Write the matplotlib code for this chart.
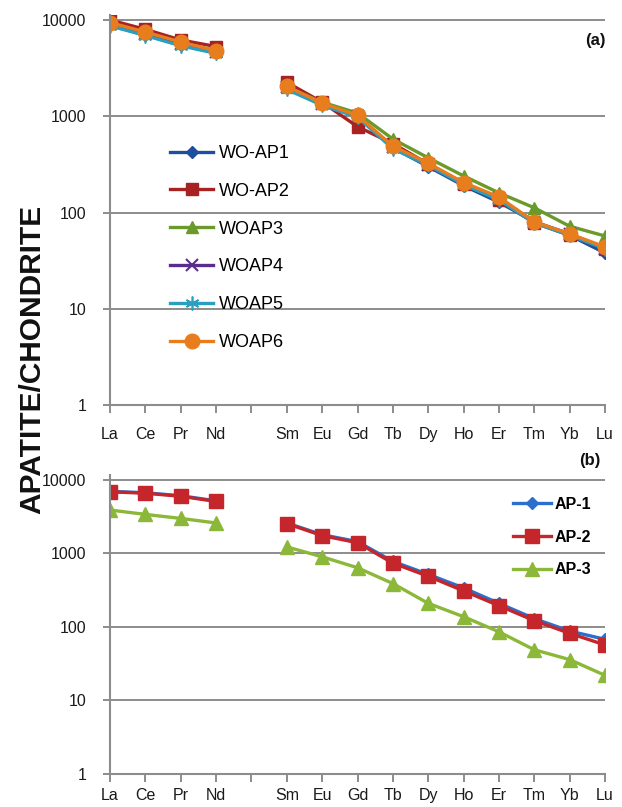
import numpy as np
import matplotlib
matplotlib.use("Agg")
import matplotlib.pyplot as plt
from matplotlib.ticker import FixedLocator, NullLocator

nan = np.nan
elements = ['La', 'Ce', 'Pr', 'Nd', '', 'Sm', 'Eu', 'Gd', 'Tb', 'Dy', 'Ho', 'Er', 'Tm', 'Yb', 'Lu']

# Panel (a)
wo_ap1 = [8800, 7000, 5500, 4600, nan, 2000, 1350, 1000, 470, 300, 190, 128, 80, 58, 38]
wo_ap2 = [10000, 8000, 6200, 5300, nan, 2250, 1400, 780, 520, 320, 200, 135, 78, 58, 42]
woap3 = [9200, 7300, 5800, 4800, nan, 2000, 1400, 1080, 580, 370, 240, 160, 112, 72, 57]
woap4 = [9000, 7100, 5600, 4700, nan, 2000, 1350, 1000, 480, 310, 200, 140, 80, 60, 42]
woap5 = [8700, 6900, 5400, 4500, nan, 1900, 1300, 980, 460, 310, 195, 135, 78, 58, 42]
woap6 = [9400, 7500, 5900, 4800, nan, 2050, 1370, 1020, 490, 325, 205, 145, 80, 60, 44]

# Panel (b)
ap1 = [7000, 6700, 6100, 5200, nan, 2600, 1800, 1450, 780, 520, 340, 210, 130, 88, 68]
ap2 = [6900, 6600, 6000, 5100, nan, 2550, 1750, 1400, 740, 490, 310, 195, 122, 82, 57]
ap3 = [3900, 3400, 3000, 2600, nan, 1230, 900, 640, 390, 210, 138, 86, 49, 36, 22]

yticks = [1, 10, 100, 1000, 10000]
ytick_labels = ['1', '10', '100', '1000', '10000']

plt.rcParams['font.family'] = ['Liberation Sans', 'DejaVu Sans']

W, H = 622, 807
fig = plt.figure(figsize=(W / 100, H / 100), dpi=100)

def px_axes(left, right, top_px, bottom_px):
    return fig.add_axes([left / W, 1 - bottom_px / H, (right - left) / W, (bottom_px - top_px) / H])

grid_c = '#8c8c8c'
x = np.arange(len(elements))

def style(ax, ytop_extra, xpad):
    ax.set_yscale('log')
    ax.set_xlim(0, len(elements) - 1)
    ax.set_ylim(1, 10000 * ytop_extra)
    ax.yaxis.set_major_locator(FixedLocator(yticks))
    ax.yaxis.set_minor_locator(NullLocator())
    ax.set_yticklabels(ytick_labels)
    ax.set_xticks(x)
    ax.set_xticklabels(elements)
    for s in ['top', 'right']:
        ax.spines[s].set_visible(False)
    for s in ['left', 'bottom']:
        ax.spines[s].set_color(grid_c)
        ax.spines[s].set_linewidth(1.5)
    ax.grid(axis='y', color=grid_c, linewidth=1.4)
    ax.set_axisbelow(True)
    ax.tick_params(axis='x', direction='out', length=6, width=1.4, color=grid_c,
                   pad=xpad, labelsize=11.5, labelcolor='#1a1a1a')
    ax.tick_params(axis='y', direction='out', length=5, width=1.4, color=grid_c,
                   pad=12, labelsize=11.5, labelcolor='#1a1a1a')

# ---- Panel (a)
ax1 = px_axes(110, 605, 15, 405)
top_series = [
    (wo_ap1, 'WO-AP1', '#1f4e9c', 'D', 6, None),
    (wo_ap2, 'WO-AP2', '#a82222', 's', 9, None),
    (woap3, 'WOAP3', '#6a9a2a', '^', 9, None),
    (woap4, 'WOAP4', '#5a2d8c', 'x', 9, 1.5),
    (woap5, 'WOAP5', '#2a9fc0', (6, 2, 0), 10, 1.2),
    (woap6, 'WOAP6', '#e87d1e', 'o', 10.5, None),
]
for vals, lab, c, m, ms, mew in top_series:
    kw = dict(color=c, marker=m, markersize=ms, linewidth=2.4, label=lab,
              markerfacecolor=c, markeredgecolor=c)
    if mew is not None:
        kw['markeredgewidth'] = mew
    ax1.plot(x, vals, **kw)
style(ax1, 10 ** (5 / 96), 10)
ax1.legend(loc='upper left', bbox_to_anchor=(170 / W, 1 - 145 / H),
           bbox_transform=fig.transFigure, frameon=False, fontsize=13,
           handlelength=2.4, handletextpad=0.3, labelspacing=1.15,
           borderpad=0, borderaxespad=0)
fig.text(595 / W, 1 - 41 / H, '(a)', fontsize=12, fontweight='bold',
         ha='center', va='center', color='#111111')

# ---- Panel (b)
ax2 = px_axes(110, 605, 475, 774)
bot_series = [
    (ap1, 'AP-1', '#2b6fcc', 'D', 6),
    (ap2, 'AP-2', '#c4262c', 's', 9.5),
    (ap3, 'AP-3', '#8cb83a', '^', 10),
]
for vals, lab, c, m, ms in bot_series:
    ax2.plot(x, vals, color=c, marker=m, markersize=ms, linewidth=2.4, label=lab,
             markerfacecolor=c, markeredgecolor=c)
style(ax2, 10 ** (5 / 74), 4)
ax2.legend(loc='upper left', bbox_to_anchor=(513 / W, 1 - 497 / H),
           bbox_transform=fig.transFigure, frameon=False,
           prop=dict(size=11.5, weight='bold'),
           handlelength=2.4, handletextpad=0.2, labelspacing=1.1,
           borderpad=0, borderaxespad=0)
fig.text(590 / W, 1 - 461 / H, '(b)', fontsize=12, fontweight='bold',
         ha='center', va='center', color='#111111')

fig.text(32 / W, 1 - 359 / H, 'APATITE/CHONDRITE', rotation=90, fontsize=21.5,
         fontweight='bold', ha='center', va='center', color='#111111')

fig.savefig('out.png', dpi=100)
